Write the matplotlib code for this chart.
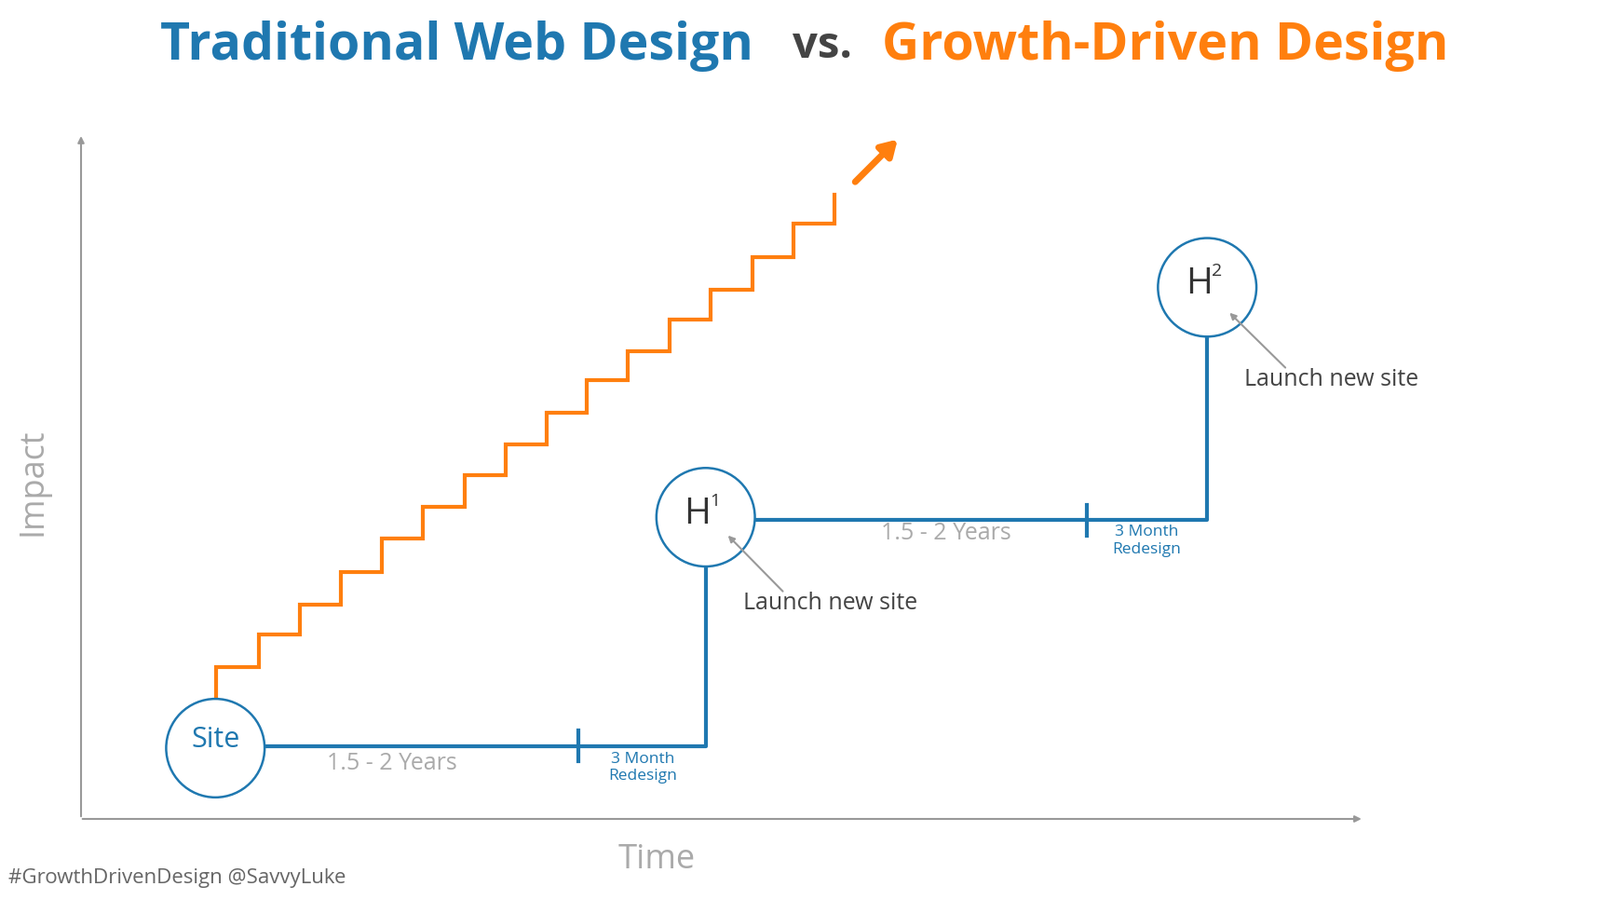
import matplotlib
matplotlib.use("Agg")
import matplotlib.pyplot as plt
from matplotlib.patches import Circle

# Data (in reference-image coordinates, displayed at 1560x877)
step_x = [211, 252, 292, 332, 372, 412, 453, 493, 533, 572, 612, 653, 693, 734, 774, 814]
step_y = [650, 618, 589, 557, 525, 494, 463, 433, 402, 370, 342, 311, 282, 251, 218, 190]
trad_path_x = [258, 688, 688, 736, 1177, 1177]
trad_path_y = [727, 727, 553, 507, 507, 329]
circle_x = [210, 688, 1177]
circle_y = [729, 504, 280]
circle_labels = ["Site", "H", "H"]
circle_sup = ["", "1", "2"]
period_labels = ["1.5 - 2 Years", "1.5 - 2 Years"]
redesign_label = "3 Month\nRedesign"

BLUE = "#1f78b0"
ORANGE = "#ff7f0e"
GREY = "#999999"
W, H = 1560, 877

fig = plt.figure(figsize=(17.18, 9.66), dpi=100)
ax = fig.add_axes([0, 0, 1, 1])
ax.set_xlim(0, W); ax.set_ylim(H, 0); ax.axis("off")
F = "Open Sans"

# title
ax.text(445, 45, "Traditional Web Design", color=BLUE, fontsize=40, fontweight="bold", ha="center", va="center", family=F)
ax.text(802, 45, "vs.", color="#444444", fontsize=34, fontweight="bold", ha="center", va="center", family=F)
ax.text(1136, 45, "Growth-Driven Design", color=ORANGE, fontsize=40, fontweight="bold", ha="center", va="center", family=F)

# axes arrows
ax.annotate("", xy=(79, 130), xytext=(79, 798), arrowprops=dict(arrowstyle="-|>", color=GREY, lw=1.5))
ax.annotate("", xy=(1330, 798), xytext=(78, 798), arrowprops=dict(arrowstyle="-|>", color=GREY, lw=1.5))
ax.text(32, 470, "Impact", rotation=90, color="#aaaaaa", fontsize=26, ha="center", va="center", family=F)
ax.text(640, 838, "Time", color="#aaaaaa", fontsize=26, ha="center", va="center", family=F)
ax.text(8, 856, "#GrowthDrivenDesign @SavvyLuke", color="#666666", fontsize=16, ha="left", va="center", family=F)

# orange staircase
sx = [step_x[0]]; sy = [680]
for i in range(len(step_x)):
    sx.append(step_x[i]); sy.append(step_y[i])
    if i + 1 < len(step_x):
        sx.append(step_x[i + 1]); sy.append(step_y[i])
ax.plot(sx, sy, color=ORANGE, lw=3, solid_joinstyle="miter")
ax.annotate("", xy=(877, 134), xytext=(832, 179),
            arrowprops=dict(arrowstyle="-|>,head_length=1.0,head_width=0.6", color=ORANGE, lw=5))

# blue path
ax.plot(trad_path_x[:3], trad_path_y[:3], color=BLUE, lw=3)
ax.plot(trad_path_x[3:], trad_path_y[3:], color=BLUE, lw=3)
for tx, ty in [(564, 727), (1060, 507)]:
    ax.plot([tx, tx], [ty - 15, ty + 15], color=BLUE, lw=3)

for (cx, cy, lab, sup) in zip(circle_x, circle_y, circle_labels, circle_sup):
    ax.add_patch(Circle((cx, cy), 48, facecolor="white", edgecolor=BLUE, lw=1.8, zorder=3))
    if sup:
        ax.text(cx - 8, cy - 3, lab, fontsize=28, color="#333333", ha="center", va="center", zorder=4, family=F)
        ax.text(cx + 9, cy - 16, sup, fontsize=14, color="#333333", ha="center", va="center", zorder=4, family=F)
    else:
        ax.text(cx, cy - 8, lab, fontsize=22, color=BLUE, ha="center", va="center", zorder=4, family=F)

ax.text(382, 744, period_labels[0], color="#aaaaaa", fontsize=18, ha="center", va="center", family=F)
ax.text(922, 520, period_labels[1], color="#aaaaaa", fontsize=18, ha="center", va="center", family=F)
ax.text(627, 748, redesign_label, color=BLUE, fontsize=12.5, ha="center", va="center", family=F)
ax.text(1118, 527, redesign_label, color=BLUE, fontsize=12.5, ha="center", va="center", family=F)

ax.annotate("", xy=(708, 520), xytext=(765, 578), arrowprops=dict(arrowstyle="-|>", color=GREY, lw=1.5))
ax.text(810, 588, "Launch new site", color="#444444", fontsize=18, ha="center", va="center", family=F)
ax.annotate("", xy=(1197, 303), xytext=(1255, 360), arrowprops=dict(arrowstyle="-|>", color=GREY, lw=1.5))
ax.text(1298, 370, "Launch new site", color="#444444", fontsize=18, ha="center", va="center", family=F)

fig.savefig("out.png", dpi=100, facecolor="white")
